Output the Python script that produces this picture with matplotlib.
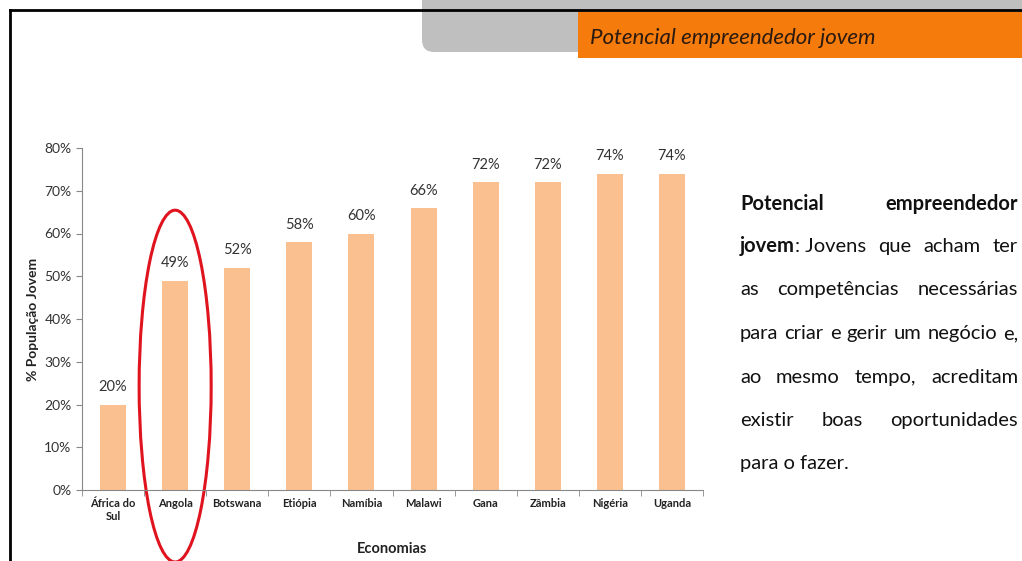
import matplotlib.pyplot as plt
from matplotlib.patches import Ellipse, FancyBboxPatch, Rectangle

plt.rcParams['font.family'] = ['Lato', 'DejaVu Sans']

# =========================
# Data
# =========================
economias = ["África do\nSul", "Angola", "Botswana", "Etiópia", "Namíbia",
             "Malawi", "Gana", "Zâmbia", "Nigéria", "Uganda"]
valores = [20, 49, 52, 58, 60, 66, 72, 72, 74, 74]
y_ticks = [0, 10, 20, 30, 40, 50, 60, 70, 80]
destaque = "Angola"

titulo = "Potencial empreendedor jovem"
# (word, bold) per line, justified text on the right
linhas = [
    [("Potencial", True), ("empreendedor", True)],
    [("jovem", True), (": Jovens", False), ("que", False), ("acham", False), ("ter", False)],
    [("as", False), ("competências", False), ("necessárias", False)],
    [("para", False), ("criar", False), ("e", False), ("gerir", False), ("um", False),
     ("negócio", False), ("e,", False)],
    [("ao", False), ("mesmo", False), ("tempo,", False), ("acreditam", False)],
    [("existir", False), ("boas", False), ("oportunidades", False)],
    [("para o fazer.", False)],
]

W, H = 1022, 561
fig = plt.figure(figsize=(W / 100, H / 100), dpi=100)
fig.patch.set_facecolor("white")

# =========================
# Header / frame
# =========================
fig.add_artist(FancyBboxPatch((422 / W, 1 - 52 / H), 640 / W, 90 / H,
                              boxstyle="round,pad=0,rounding_size=0.012",
                              transform=fig.transFigure, facecolor="#BFBFBF",
                              edgecolor="none", mutation_aspect=W / H, zorder=1))
fig.add_artist(Rectangle((578 / W, 1 - 58 / H), (W - 578) / W, 46 / H,
                         transform=fig.transFigure, facecolor="#F47B0C",
                         edgecolor="none", zorder=2))
fig.add_artist(plt.Line2D([10 / W, 1], [1 - 10 / H, 1 - 10 / H], color="black", lw=2,
                          transform=fig.transFigure, zorder=3))
fig.add_artist(plt.Line2D([10 / W, 10 / W], [0, 1 - 10 / H], color="black", lw=2,
                          transform=fig.transFigure, zorder=3))
fig.text(590 / W, 1 - 38 / H, titulo, fontsize=16, style="italic", color="#2A1A10",
         va="center", ha="left", zorder=4)

# =========================
# Bar chart
# =========================
ax = fig.add_axes([82 / W, 71 / H, 621 / W, 342 / H])
x = list(range(len(economias)))
ax.bar(x, valores, width=0.42, color="#FAC090")
for xi, v in zip(x, valores):
    ax.text(xi, v + 2.4, f"{v}%", ha="center", va="bottom", fontsize=10.5, color="#333333")

ax.set_xlim(-0.5, len(economias) - 0.5)
ax.set_ylim(0, 80)
ax.set_yticks(y_ticks)
ax.set_yticklabels([f"{t}%" for t in y_ticks], fontsize=10, color="#333333")
ax.set_xticks(x)
ax.set_xticklabels(economias, fontsize=8, color="#222222", fontweight="bold")
ax.set_xticks([i + 0.5 for i in range(-1, len(economias))], minor=True)
ax.tick_params(axis="x", which="major", length=0, pad=6)
ax.tick_params(axis="x", which="minor", length=4, color="#888888", direction="out")
ax.tick_params(axis="y", length=4, color="#888888")
for s in ["top", "right"]:
    ax.spines[s].set_visible(False)
for s in ["left", "bottom"]:
    ax.spines[s].set_color("#888888")
ax.set_xlabel("Economias", fontsize=10.5, fontweight="bold", color="#222222", labelpad=14)
ax.set_ylabel("% População Jovem", fontsize=10, fontweight="bold", color="#222222",
              labelpad=4)

# highlight ellipse
idx = economias.index(destaque)
ax.add_patch(Ellipse((idx, 24.3), 1.16, 82.3, fill=False, edgecolor="#E0141E", lw=2.2,
                     clip_on=False))

# =========================
# Justified description
# =========================
fig.canvas.draw()
renderer = fig.canvas.get_renderer()
x0, x1 = 740, 1018
y_lines = [205, 247, 290, 334, 378, 421, 464]
for palavras, yl in zip(linhas, y_lines):
    arts = [fig.text(0, 1 - (yl + 5) / H, w, fontsize=14.5, color="#111111",
                     fontweight="bold" if b else "normal", va="baseline", ha="left")
            for w, b in palavras]
    widths = [a.get_window_extent(renderer).width for a in arts]
    if len(arts) == 1:
        arts[0].set_x(x0 / W)
        continue
    # "jovem" + ": Jovens" stick together
    gaps = len(arts) - 1
    glue = [0] * gaps
    if palavras[0][0] == "jovem":
        glue[0] = 1
    free = (x1 - x0) - sum(widths)
    n_free = gaps - sum(glue)
    gap = free / n_free
    pos = x0
    for i, a in enumerate(arts):
        a.set_x(pos / W)
        pos += widths[i]
        if i < gaps:
            pos += 0 if glue[i] else gap

fig.savefig("out.png", dpi=100)
